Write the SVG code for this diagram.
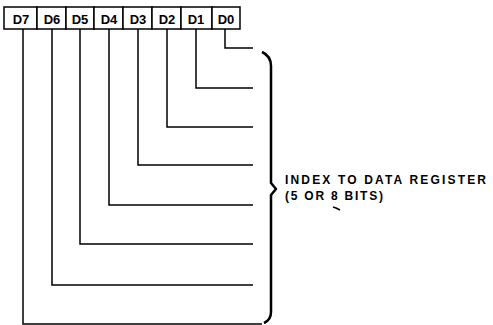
<svg xmlns="http://www.w3.org/2000/svg" width="493" height="325" viewBox="0 0 493 325">
<style>
.box{fill:#fff;stroke:#000;stroke-width:1.5}
.lbl{font-family:"Liberation Sans",Arial,sans-serif;font-size:13px;font-weight:bold;text-anchor:middle;fill:#000}
.wire{fill:none;stroke:#000;stroke-width:1.5}
.brace{fill:none;stroke:#000;stroke-width:2.5;stroke-linejoin:round}
.note{font-family:"Liberation Sans",Arial,sans-serif;font-size:12px;font-weight:bold;fill:#000}
</style>
<rect width="493" height="325" fill="#fff"/>
<g id="D7"><rect class="box" x="4" y="7" width="33" height="22"/><text class="lbl" x="21" y="23.5">D7</text></g>
<g id="D6"><rect class="box" x="37" y="7" width="29" height="22"/><text class="lbl" x="52" y="23.5">D6</text></g>
<g id="D5"><rect class="box" x="66" y="7" width="28" height="22"/><text class="lbl" x="80" y="23.5">D5</text></g>
<g id="D4"><rect class="box" x="94" y="7" width="29" height="22"/><text class="lbl" x="109" y="23.5">D4</text></g>
<g id="D3"><rect class="box" x="123" y="7" width="29" height="22"/><text class="lbl" x="138" y="23.5">D3</text></g>
<g id="D2"><rect class="box" x="152" y="7" width="29" height="22"/><text class="lbl" x="167" y="23.5">D2</text></g>
<g id="D1"><rect class="box" x="181" y="7" width="31" height="22"/><text class="lbl" x="196" y="23.5">D1</text></g>
<g id="D0"><rect class="box" x="212" y="7" width="28" height="22"/><text class="lbl" x="226" y="23.5">D0</text></g>
<g id="connectors">
<path class="wire" d="M225 29V48H253"/>
<path class="wire" d="M196 29V88H253"/>
<path class="wire" d="M167 29V127H253"/>
<path class="wire" d="M138 29V165H253"/>
<path class="wire" d="M109 29V205H253"/>
<path class="wire" d="M80 29V244H253"/>
<path class="wire" d="M52 29V285H253"/>
<path class="wire" d="M23 29V324H262"/>
</g>
<g id="brace">
<path class="brace" d="M262 52Q271 56 271 66V183L276 189L271 195V312Q271 320 264 323"/>
</g>
<g id="label">
<text class="note" x="285" y="184" textLength="201" lengthAdjust="spacing">INDEX TO DATA REGISTER</text>
<text class="note" x="285" y="200" textLength="98" lengthAdjust="spacing">(5 OR 8 BITS)</text>
<path d="M333 207L336 208L340 210" fill="none" stroke="#000" stroke-width="1.5"/>
</g>
</svg>
